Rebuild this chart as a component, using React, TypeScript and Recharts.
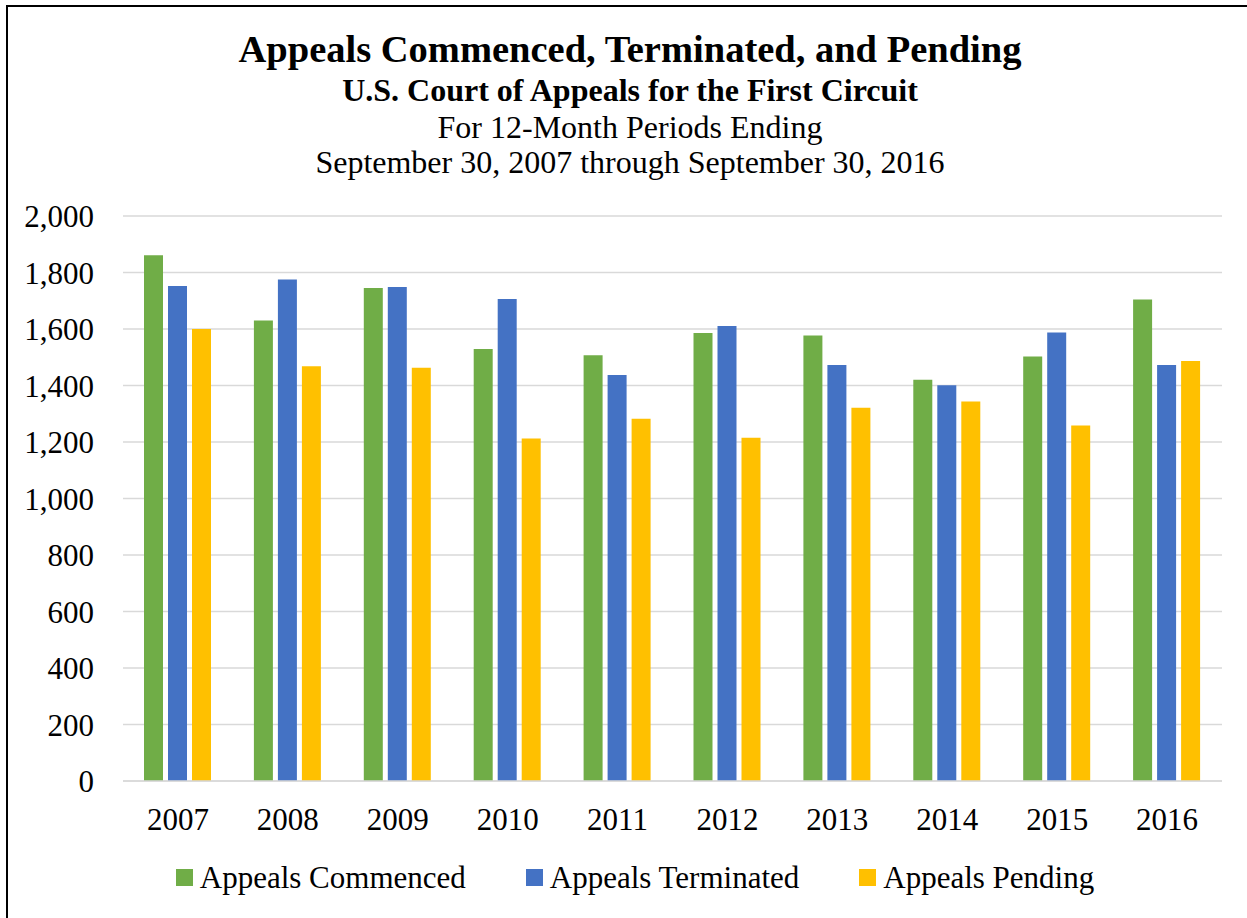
import { Bar, BarChart, CartesianGrid, XAxis, YAxis } from 'recharts';

const years = ['2007', '2008', '2009', '2010', '2011', '2012', '2013', '2014', '2015', '2016'];
const commenced = [1861, 1630, 1745, 1529, 1507, 1586, 1577, 1420, 1503, 1704];
const terminated = [1752, 1775, 1749, 1706, 1437, 1611, 1473, 1401, 1588, 1473];
const pending = [1600, 1468, 1463, 1212, 1282, 1215, 1321, 1343, 1258, 1487];
const yTicks = [0, 200, 400, 600, 800, 1000, 1200, 1400, 1600, 1800, 2000];

const series = [
  { key: 'commenced', name: 'Appeals Commenced', color: '#70ad47' },
  { key: 'terminated', name: 'Appeals Terminated', color: '#4472c4' },
  { key: 'pending', name: 'Appeals Pending', color: '#ffc000' },
];

const data = years.map((y, i) => ({
  year: y,
  commenced: commenced[i],
  terminated: terminated[i],
  pending: pending[i],
}));

const font = '"Liberation Serif", "Times New Roman", serif';

function LegendRow() {
  return (
    <div
      style={{
        position: 'absolute',
        top: 862,
        left: 0,
        width: 1247,
        display: 'flex',
        justifyContent: 'center',
        alignItems: 'center',
        paddingLeft: 23,
        boxSizing: 'border-box',
        fontFamily: font,
        fontSize: 31,
        lineHeight: '31px',
        color: '#000',
      }}
    >
      {series.map((s, i) => (
        <div
          key={s.key}
          style={{ display: 'flex', alignItems: 'center', marginRight: i < series.length - 1 ? 60 : 0 }}
        >
          <span style={{ width: 17, height: 17, background: s.color, marginRight: 7, display: 'inline-block' }} />
          <span>{s.name}</span>
        </div>
      ))}
    </div>
  );
}

function TitleLine({ text, top, size, bold }: { text: string; top: number; size: number; bold?: boolean }) {
  return (
    <div
      style={{
        position: 'absolute',
        top,
        left: 0,
        width: 1260,
        textAlign: 'center',
        fontFamily: font,
        fontSize: size,
        lineHeight: `${size}px`,
        fontWeight: bold ? 'bold' : 'normal',
        color: '#000',
      }}
    >
      {text}
    </div>
  );
}

export default function App() {
  return (
    <div
      style={{
        position: 'absolute',
        top: 0,
        left: 0,
        width: 1247,
        height: 918,
        overflow: 'hidden',
        background: '#fff',
      }}
    >
      <div
        style={{
          position: 'absolute',
          top: 5,
          left: 6,
          width: 1400,
          height: 1100,
          borderTop: '2px solid #000',
          borderLeft: '2px solid #000',
        }}
      />
      <TitleLine text="Appeals Commenced, Terminated, and Pending" top={30} size={38.5} bold />
      <TitleLine text="U.S. Court of Appeals for the First Circuit" top={74} size={32} bold />
      <TitleLine text="For 12-Month Periods Ending" top={111} size={32} />
      <TitleLine text="September 30, 2007 through September 30, 2016" top={146} size={32} />
      <div style={{ position: 'absolute', top: 0, left: 0 }}>
        <BarChart
          width={1247}
          height={918}
          data={data}
          margin={{ top: 216, right: 25, bottom: 77, left: 0 }}
          barSize={19}
          barGap={5}
        >
          <CartesianGrid vertical={false} stroke="#d9d9d9" strokeWidth={1.5} />
          <XAxis
            dataKey="year"
            height={60}
            tickLine={false}
            tickSize={0}
            tickMargin={27}
            axisLine={{ stroke: '#d9d9d9', strokeWidth: 1.5 }}
            tick={{ fill: '#000', fontSize: 31, fontFamily: font }}
          />
          <YAxis
            width={123}
            domain={[0, 2000]}
            ticks={yTicks}
            interval={0}
            axisLine={false}
            tickLine={false}
            tickSize={0}
            tickMargin={29}
            tickFormatter={(v: number) => v.toLocaleString('en-US')}
            tick={{ fill: '#000', fontSize: 31, fontFamily: font }}
          />
          {series.map((s) => (
            <Bar key={s.key} dataKey={s.key} name={s.name} fill={s.color} isAnimationActive={false} />
          ))}
        </BarChart>
      </div>
      <LegendRow />
    </div>
  );
}
